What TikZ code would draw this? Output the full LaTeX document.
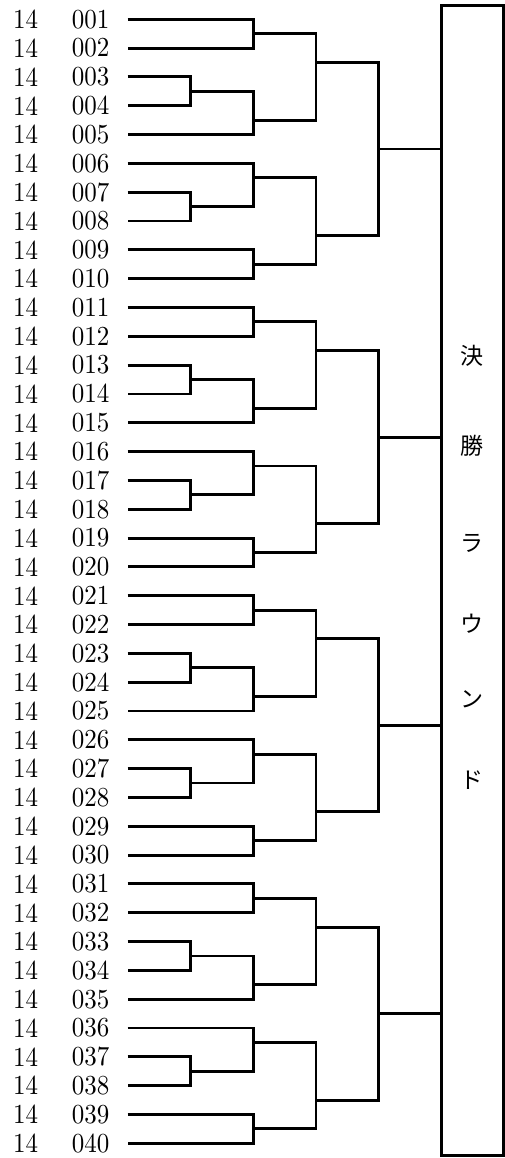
\documentclass[tikz,border=0pt]{standalone}
\usepackage{fontspec}
\newfontfamily\cjk{Noto Sans CJK JP}
\newfontfamily\digfont{lmroman10-regular}[Extension=.otf]
\usetikzlibrary{calc}
\newcommand\dg[1]{\scalebox{1}[1.1]{#1}}
\begin{document}
\begin{tikzpicture}[x=1pt,y=-1pt,
  lbl/.style={inner sep=0pt,anchor=center,font=\digfont\fontsize{25}{25}\selectfont},
  jp/.style={inner sep=0pt,anchor=center,font=\cjk\fontsize{23}{23}\selectfont},
  wire/.style={line width=2.9pt,line join=miter},
  finalbox/.style={draw,line width=2.9pt,rectangle,inner sep=0pt,minimum width=62.2pt,minimum height=1150.1pt}]
\useasboundingbox (0,0) rectangle (505,1158);
\def\XA{190.7}\def\XB{253.3}\def\XC{316}\def\XD{378.7}
% final round box
\node[finalbox] (box) at (472.4,580.35) {};
\node[jp] (j1) at (472,356) {決};
\node[jp] (j2) at (472,446) {勝};
\node[jp] (j3) at (472,543) {ラ};
\node[jp] (j4) at (472,624) {ウ};
\node[jp] (j5) at (472,699) {ン};
\node[jp] (j6) at (472,780) {ド};
% entries
\foreach \r in {1,...,40}{
  \pgfmathsetmacro\yy{19.3+(\r-1)*28.82}
  \coordinate (s\r) at (127.7,\yy);
  \node[lbl] (a\r) at (25.5,\yy) {\dg{14}};
  \node[lbl] (n\r) at (90.5,\yy) {\dg{\ifnum\r<10 00\r\else 0\r\fi}};
}
% brackets per group
\foreach \g/\o in {1/0,2/10,3/20,4/30}{
  \pgfmathtruncatemacro\ra{\o+1}\pgfmathtruncatemacro\rb{\o+2}
  \pgfmathtruncatemacro\rc{\o+3}\pgfmathtruncatemacro\rd{\o+4}
  \pgfmathtruncatemacro\re{\o+5}\pgfmathtruncatemacro\rf{\o+6}
  \pgfmathtruncatemacro\rg{\o+7}\pgfmathtruncatemacro\rh{\o+8}
  \pgfmathtruncatemacro\ri{\o+9}\pgfmathtruncatemacro\rj{\o+10}
  \coordinate (ma\g) at (\XB,{19.3+(\o+0.5)*28.82});
  \coordinate (mb\g) at (\XA,{19.3+(\o+2.5)*28.82});
  \coordinate (mc\g) at (\XB,{19.3+(\o+3.5)*28.82});
  \coordinate (md\g) at (\XC,{19.3+(\o+1.5)*28.82});
  \coordinate (me\g) at (\XA,{19.3+(\o+6.5)*28.82});
  \coordinate (mf\g) at (\XB,{19.3+(\o+5.5)*28.82});
  \coordinate (mg\g) at (\XB,{19.3+(\o+8.5)*28.82});
  \coordinate (mh\g) at (\XC,{19.3+(\o+7.5)*28.82});
  \coordinate (mi\g) at (\XD,{19.3+(\o+4.5)*28.82});
  \draw[wire] (s\ra) -| (ma\g) |- (s\rb);
  \draw[wire] (s\rc) -| (mb\g) |- (s\rd);
  \draw[wire] (mb\g) -| (mc\g) |- (s\re);
  \draw[wire] (ma\g) -| (md\g) |- (mc\g);
  \draw[wire] (s\rg) -| (me\g) |- (s\rh);
  \draw[wire] (s\rf) -| (mf\g) |- (me\g);
  \draw[wire] (s\ri) -| (mg\g) |- (s\rj);
  \draw[wire] (mf\g) -| (mh\g) |- (mg\g);
  \draw[wire] (md\g) -| (mi\g) |- (mh\g);
  \draw[wire] (mi\g) -- (mi\g -| box.west);
}
\end{tikzpicture}
\end{document}
